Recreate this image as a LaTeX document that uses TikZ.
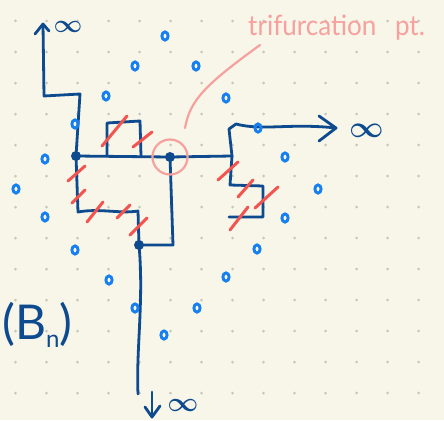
\documentclass[tikz,border=0pt]{standalone}
\usepackage{bm}
\usepackage{fontspec}
\newfontfamily\hand{Lato}
\definecolor{paper}{HTML}{F8F5E9}
\definecolor{gridgray}{HTML}{C9C6BC}
\definecolor{ink}{HTML}{0D4A8E}
\definecolor{sky}{HTML}{1680F0}
\definecolor{hash}{HTML}{F2554F}
\definecolor{pinkish}{HTML}{F7A19E}
\begin{document}
\begin{tikzpicture}[x=1pt,y=-1pt,
  curve/.style={draw=ink,line width=2.8pt,line cap=round,line join=round},
  hashmark/.style={draw=hash,line width=3pt,line cap=round},
  puncture/.style={draw=sky,line width=2.9pt},
  junction/.style={circle,fill=ink,inner sep=0pt,minimum size=10pt},
  inf/.style={text=ink,inner sep=0pt},
  note/.style={draw=pinkish,line width=2.2pt,line cap=round}
]
\fill[paper] (0,0) rectangle (444,420);
\useasboundingbox (0,0) rectangle (444,420);
\foreach \i in {0,...,13} \foreach \j in {0,...,12}
  \fill[gridgray] ({15.5+31*\i},{21+31*\j}) circle (1.5pt);

% junctions
\node[junction] (J1) at (76,156) {};
\node[junction] (J2) at (170,157) {};
\node[junction] (J3) at (139,245) {};
\coordinate (R) at (232,156);
\coordinate (Top) at (43,24);
\coordinate (East) at (336,128);
\coordinate (South) at (138,394);

% curve
\draw[curve] (Top) -- (44,96) -- (80,94) -- (J1.center);
\draw[curve] (J1.center) -- (J2.center) -- (R);
\draw[curve] (107,156) -- (107,123) -- (140,121) -- (141,156);
\draw[curve] (R) -- (229,129) -- (236,124) .. controls (262,131) and (290,123) .. (East);
\draw[curve] (319,116) -- (East) -- (319,141);
\draw[curve] (Top) -- (35,34);
\draw[curve] (Top) -- (49,31);
\draw[curve] (R) -- (230,185) -- (263,186) -- (263,217) -- (229,217);
\draw[curve] (J1.center) -- (78,212) .. controls (100,208) and (120,214) .. (138,211) -- (J3.center);
\draw[curve] (J2.center) -- (173,245) -- (J3.center);
\draw[curve] (J3.center) .. controls (144,300) and (136,350) .. (South);

% down arrow symbol
\coordinate (ArrTop) at (152,392);
\coordinate (ArrTip) at (152,417);
\draw[curve] (ArrTop) -- (ArrTip);
\draw[curve] (145,407) -- (ArrTip) -- (160,406);

% infinities
\node[inf,scale=2.5] (inf1) at (68,27) {$\bm{\infty}$};
\node[inf,scale=3.0] (inf2) at (367,131) {$\bm{\infty}$};
\node[inf,scale=2.7] (inf3) at (183,405) {$\bm{\infty}$};

% red hash marks
\foreach \a/\b in {{(102,146)}/{(127,116)},{(133,147)}/{(152,132)},{(68,181)}/{(85,166)},{(72,203)}/{(85,190)},{(87,222)}/{(103,202)},{(117,218)}/{(130,205)},{(130,235)}/{(147,218)},{(218,180)}/{(238,162)},{(238,197)}/{(253,180)},{(255,208)}/{(278,187)},{(230,230)}/{(248,207)}}
  \draw[hashmark] \a -- \b;

% punctures
\foreach \p in {(165,36),(135,66),(196,66),(106,96),(226,98),(75,124),(258,128),(45,159),(285,157),(16,189),(318,189),(45,217),(285,218),(75,250),(257,249),(226,277),(109,280),(135,308),(197,308),(164,335)}
  \draw[puncture] \p ellipse (3.1pt and 4.1pt);

% trifurcation annotation
\node[draw=pinkish,line width=2.2pt,circle,minimum size=35pt,inner sep=0pt] (ring) at (170,157) {};
\node[anchor=base west,text=pinkish,inner sep=0pt,xscale=0.93,font=\hand\fontsize{28}{28}\selectfont] (lbl) at (248,36) {trifurcation\hspace{20pt}pt.};
\coordinate (LeadStart) at (185,128);
\coordinate (LeadEnd) at (260,45);
\draw[note] (LeadStart) .. controls (190,100) and (205,85) .. (LeadEnd);

% B_n
\node[anchor=base west,text=ink,inner sep=0pt,font=\hand\fontsize{48}{48}\selectfont] (Bn) at (2,339) {(B\raisebox{-8pt}{\fontsize{24}{24}\selectfont n})};
\end{tikzpicture}
\end{document}
